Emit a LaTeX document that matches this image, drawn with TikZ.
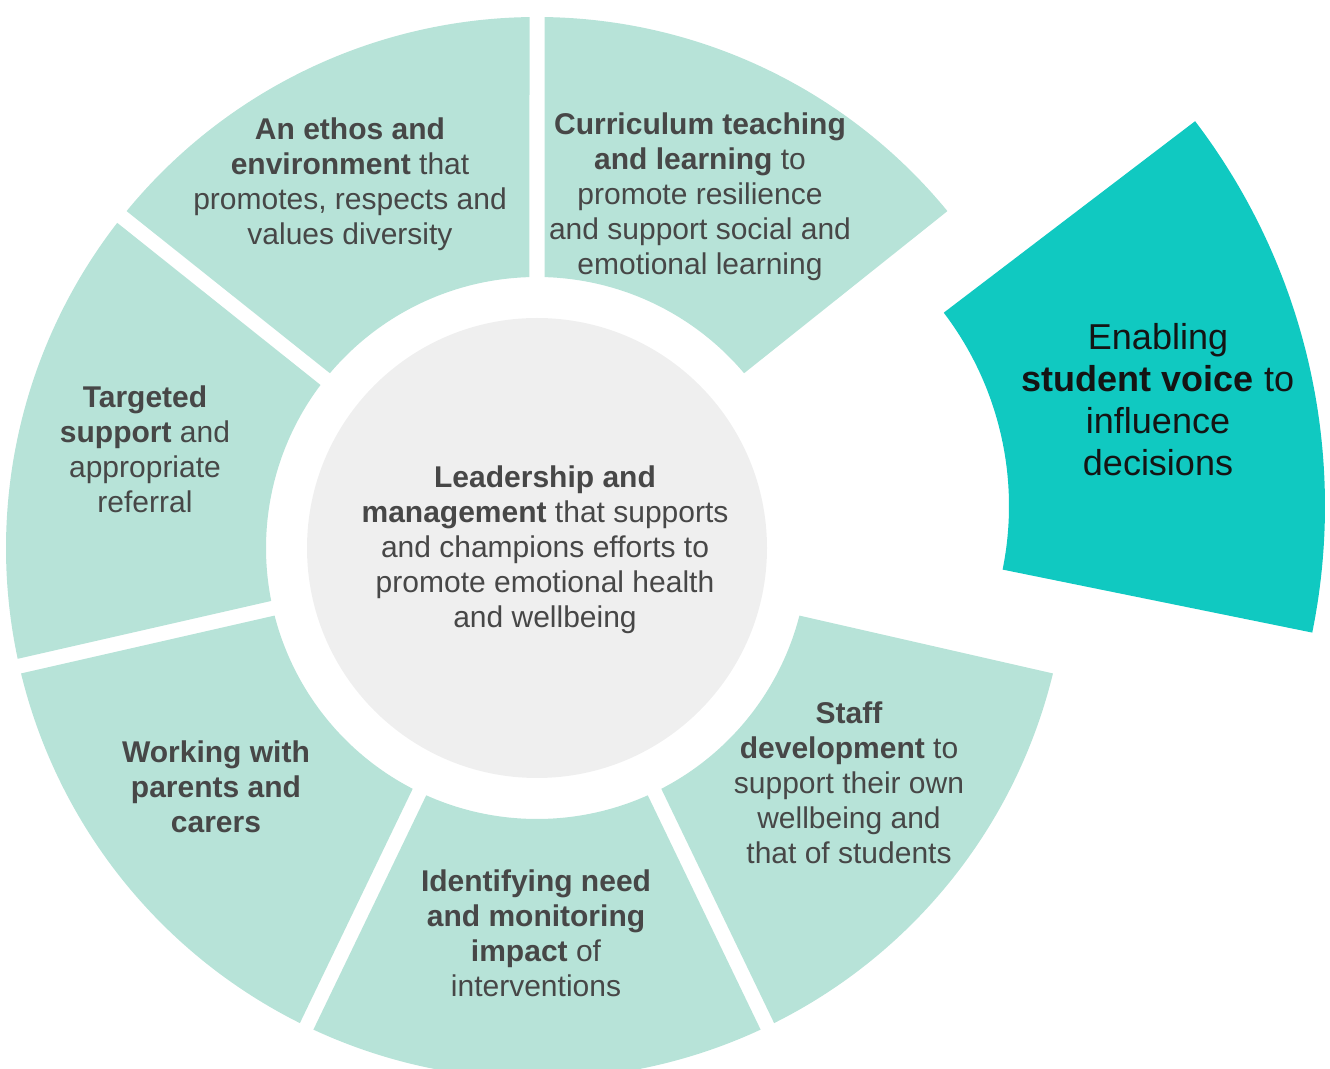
\documentclass[tikz,border=0pt]{standalone}
\usepackage{fontspec}
\setmainfont{Liberation Sans}
\definecolor{mint}{HTML}{B7E3D8}
\definecolor{tealhi}{HTML}{10C9C1}
\definecolor{centergray}{HTML}{EFEFEF}
\definecolor{txt}{HTML}{474747}
\newcommand\Ro{531}
\newcommand\Ri{271}
\newcommand\dO{0.81}
\newcommand\dI{1.59}
\newcommand\ringseg[2]{\fill[mint,shift={(537,520)}] ({#1+\dO}:\Ro) arc[start angle={#1+\dO}, end angle={#2-\dO}, radius=\Ro] -- ({#2-\dI}:\Ri) arc[start angle={#2-\dI}, end angle={#1+\dI}, radius=\Ri] -- cycle;}
\begin{document}
\begin{tikzpicture}[x=1pt,y=1pt,
  seglabel/.style={align=center, text=txt, font=\fontsize{30}{35}\selectfont, inner sep=0pt},
  hilabel/.style={align=center, text=black!92, font=\fontsize{36}{42}\selectfont, inner sep=0pt}]
\useasboundingbox (0,0) rectangle (1330,1068);
% ring segments
\ringseg{38.571}{90}
\ringseg{90}{141.429}
\ringseg{141.429}{192.857}
\ringseg{192.857}{244.286}
\ringseg{244.286}{295.714}
\ringseg{295.714}{347.143}
% highlighted segment
\fill[tealhi, shift={(690,562)}] (-11.5:635) arc[start angle=-11.5, end angle=37.3, radius=635] -- (37.3:319) arc[start angle=37.3, end angle=-11.5, radius=319] -- cycle;
% centre disc
\fill[centergray] (537,520) circle[radius=230];
% labels
\node[seglabel] (ethos) at (350,884) {\textbf{An ethos and}\\\textbf{environment} that\\promotes, respects and\\values diversity};
\node[seglabel] (curric) at (700,871) {\textbf{Curriculum teaching}\\\textbf{and learning} to\\promote resilience\\and support social and\\emotional learning};
\node[seglabel] (target) at (145,619) {\textbf{Targeted}\\\textbf{support} and\\appropriate\\referral};
\node[seglabel] (lead) at (545,518) {\textbf{Leadership and}\\\textbf{management} that supports\\and champions efforts to\\promote emotional health\\and wellbeing};
\node[seglabel] (parents) at (216,281) {\textbf{Working with}\\\textbf{parents and}\\\textbf{carers}};
\node[seglabel] (identify) at (536,135) {\textbf{Identifying need}\\\textbf{and monitoring}\\\textbf{impact} of\\interventions};
\node[seglabel] (staff) at (849,285) {\textbf{Staff}\\\textbf{development} to\\support their own\\wellbeing and\\that of students};
\node[hilabel] (voice) at (1158,668) {Enabling\\\textbf{student voice} to\\influence\\decisions};
\end{tikzpicture}
\end{document}
